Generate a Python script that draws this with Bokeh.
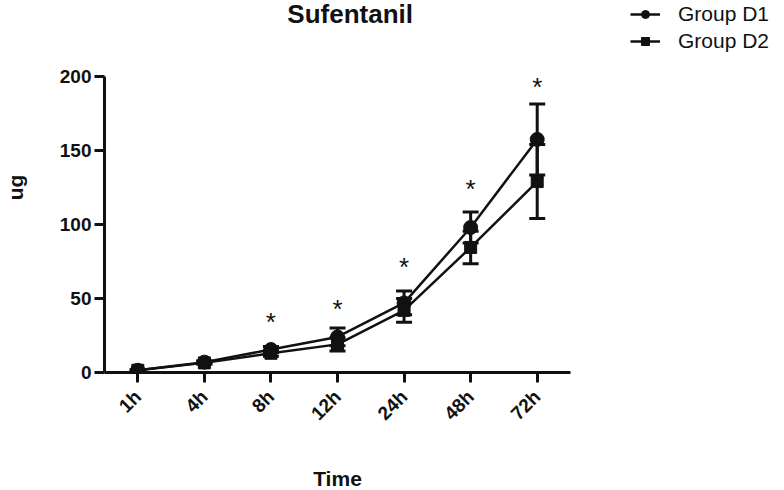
from bokeh.plotting import figure
from bokeh.models import (ColumnDataSource, Whisker, TeeHead, Legend, LegendItem, Range1d,
                          FixedTicker, Label)
from bokeh.core.properties import value
from bokeh.embed import file_html
from bokeh.resources import INLINE
import math

times = ["1h", "4h", "8h", "12h", "24h", "48h", "72h"]
d1_mean = [1.5, 7.0, 15.5, 24.0, 47.0, 98.0, 157.5]
d1_err = [0.5, 1.0, 2.0, 6.0, 8.0, 10.5, 24.0]
d2_mean = [1.5, 6.5, 13.0, 19.0, 42.0, 84.5, 129.0]
d2_err = [0.5, 1.0, 2.0, 4.5, 8.0, 11.0, 25.0]
star_times = ["8h", "12h", "24h", "48h", "72h"]
star_y = [34.0, 43.0, 71.0, 124.0, 193.0]
y_ticks = [0, 50, 100, 150, 200]

FONT = "Liberation Sans"
INK = "#111111"

pos = list(range(len(times)))
n = len(times)

p = figure(x_range=Range1d(-0.5, n - 0.5), y_range=Range1d(0, 250),
           frame_width=466, frame_height=370,
           min_border_left=104, min_border_top=2, min_border_right=0, min_border_bottom=102,
           output_backend="svg", toolbar_location=None, title=None)
p.outline_line_color = None
p.xgrid.visible = False
p.ygrid.visible = False
p.background_fill_color = "white"
p.border_fill_color = "white"

for ax in (p.xaxis[0], p.yaxis[0]):
    ax.axis_line_width = 3
    ax.axis_line_color = INK
    ax.major_tick_line_width = 3
    ax.major_tick_line_color = INK
    ax.major_tick_out = 10
    ax.major_tick_in = 0
    ax.minor_tick_line_color = None
    ax.major_label_text_font = FONT
    ax.major_label_text_font_style = "bold"
    ax.major_label_text_font_size = "19px"
    ax.major_label_text_color = INK
    ax.axis_label_text_font = FONT
    ax.axis_label_text_font_style = "bold"
    ax.axis_label_text_font_size = "21px"
    ax.axis_label_text_color = INK

p.yaxis.ticker = FixedTicker(ticks=y_ticks)
p.yaxis.bounds = (y_ticks[0], y_ticks[-1])
p.yaxis.axis_label = "ug"
p.yaxis.axis_label_standoff = 30
p.yaxis.major_label_standoff = 3

p.xaxis.ticker = FixedTicker(ticks=pos)
p.xaxis.major_label_overrides = {i: t for i, t in enumerate(times)}
p.xaxis.axis_label = "Time"
p.xaxis.major_label_orientation = math.pi / 4
p.xaxis.axis_label_standoff = 33
p.xaxis.major_label_standoff = 11

src = ColumnDataSource(dict(
    t=pos,
    m1=d1_mean, lo1=[m - e for m, e in zip(d1_mean, d1_err)], hi1=[m + e for m, e in zip(d1_mean, d1_err)],
    m2=d2_mean, lo2=[m - e for m, e in zip(d2_mean, d2_err)], hi2=[m + e for m, e in zip(d2_mean, d2_err)],
))

for lo, hi in (("lo1", "hi1"), ("lo2", "hi2")):
    w = Whisker(source=src, base="t", lower=lo, upper=hi, line_width=3, line_color=INK,
                upper_head=TeeHead(size=16, line_width=3, line_color=INK),
                lower_head=TeeHead(size=16, line_width=3, line_color=INK))
    p.add_layout(w)

l1 = p.line("t", "m1", source=src, line_width=2.5, line_color=INK)
s1 = p.scatter("t", "m1", source=src, marker="circle", size=14, fill_color=INK, line_color=INK)
l2 = p.line("t", "m2", source=src, line_width=2.5, line_color=INK)
s2 = p.scatter("t", "m2", source=src, marker="square", size=12, fill_color=INK, line_color=INK)

star_x = [times.index(t) for t in star_times]
p.text(x=star_x, y=star_y, text=["*"] * len(star_times), text_align="center", text_baseline="middle",
       text_font=value(FONT), text_font_size="26px", text_color=INK)

title = Label(x=3.19, y=242, text="Sufentanil", text_align="center", text_baseline="middle",
              text_font=FONT, text_font_size="26px", text_font_style="bold", text_color=INK)
p.add_layout(title)

legend = Legend(items=[LegendItem(label="Group D1", renderers=[l1, s1]),
                       LegendItem(label="Group D2", renderers=[l2, s2])],
                location=(60, 319), orientation="vertical",
                label_text_font=FONT, label_text_font_size="21px", label_text_color=INK,
                glyph_width=30, glyph_height=20, label_height=20, label_standoff=18,
                spacing=3, padding=0, margin=30, border_line_color=None, background_fill_alpha=0)
p.add_layout(legend, "right")

open("out.html", "w").write(file_html(p, INLINE))
